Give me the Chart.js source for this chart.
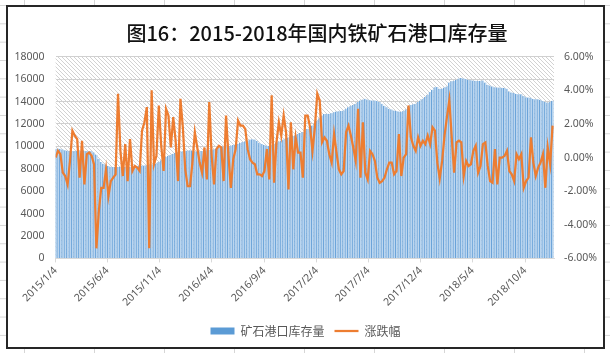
<!DOCTYPE html>
<html>
<head>
<meta charset="utf-8">
<script src="https://cdn.jsdelivr.net/npm/chart.js@4.4.0/dist/chart.umd.min.js"></script>
<style>
html, body { margin: 0; padding: 0; width: 610px; height: 353px; overflow: hidden; background: #fff; }
body {
    background-image: linear-gradient(to right, #d6d6d6 1px, transparent 1px),
                      linear-gradient(to bottom, #d6d6d6 1px, transparent 1px);
    background-size: 70px 18.33px;
    background-position: 24px 5px;
}
#box { position: absolute; left: 6px; top: 5px; width: 599px; height: 344px; box-sizing: border-box; border: 2px solid #262626; background: #fff; }
#wrap { position: absolute; left: 8px; top: 7px; width: 595px; height: 340px; }
#title { position: absolute; left: 0; top: 21px; width: 634px; text-align: center; font: 500 20px "Noto Sans CJK SC"; line-height: 24px; color: #111; }
</style>
</head>
<body>
<div id="box"></div>
<div id="wrap"><canvas id="chart"></canvas></div>
<div id="title">图16：2015-2018年国内铁矿石港口库存量</div>
<script>
// weekly data, first week = startDate
const startDate = '2015/1/4';
const tickLabels = ['2015/1/4', '2015/6/4', '2015/11/4', '2016/4/4', '2016/9/4',
    '2017/2/4', '2017/7/4', '2017/12/4', '2018/5/4', '2018/10/4'];
const seriesNames = ['矿石港口库存量', '涨跌幅'];

// port inventory (left axis)
const inventory = [
    9780, 9800, 9780, 9720, 9650, 9600, 9580, 9560, 9580, 9600,
    9590, 9580, 9600, 9590, 9570, 9560, 9450, 9250, 8900, 8600,
    8450, 8350, 8250, 8180, 8150, 8160, 8150, 8170, 8150, 8180,
    8200, 8170, 8180, 8200, 8220, 8250, 8280, 8300, 8320, 8350,
    8380, 8420, 8480, 8600, 8750, 8900, 9050, 9150, 9250, 9350,
    9420, 9480, 9520, 9560, 9600, 9630, 9650, 9600, 9560, 9550,
    9560, 9580, 9600, 9650, 9700, 9720, 9750, 9800, 9870, 9920,
    9980, 10000, 10030, 10060, 10120, 10160, 10230, 10300, 10380, 10450,
    10530, 10600, 10640, 10600, 10480, 10300, 10200, 10120, 10050, 10030,
    10100, 10220, 10330, 10430, 10520, 10620, 10720, 10800, 10860, 10930,
    11000, 11100, 11180, 11280, 11400, 11550, 11700, 11850, 12000, 12300,
    12500, 12750, 12880, 12900, 12900, 12950, 13050, 13100, 13130, 13150,
    13200, 13350, 13500, 13620, 13700, 13800, 13950, 14100, 14180, 14240,
    14180, 14120, 14100, 14100, 14050, 13950, 13800, 13620, 13480, 13350,
    13280, 13200, 13150, 13100, 13080, 13150, 13300, 13550, 13700, 13750,
    13800, 13950, 14100, 14250, 14400, 14600, 14850, 15050, 15280, 15300,
    15150, 15150, 15250, 15350, 15700, 15800, 15850, 15950, 16050, 16100,
    16050, 16000, 15950, 15900, 15880, 15850, 15830, 15850, 15880, 15700,
    15500, 15440, 15350, 15280, 15250, 15250, 15230, 15200, 15150, 14900,
    14800, 14750, 14680, 14660, 14650, 14500, 14380, 14350, 14330, 14220,
    14200, 14200, 14150, 14050, 13950, 13900, 13950, 14060
];

// weekly change in % (right axis)
const change = [
    0.0, 0.4, 0.2, -0.9, -1.1, -1.6, -0.2, 1.6, 1.3, 1.1,
    -1.2, 1.0, -1.6, 0.2, 0.3, 0.1, -0.4, -5.4, -3.2, -1.8,
    -1.8, -0.7, -2.3, -1.4, -1.2, -1.0, 3.8, 0.4, -1.1, 0.8,
    -1.4, 1.1, -0.8, -0.5, -0.6, -0.8, 1.6, 2.1, 3.0, -5.4,
    4.0, -0.4, 0.1, 3.1, 0.7, -0.8, 2.9, 2.5, 0.6, 2.4,
    1.0, -1.4, 3.5, 1.8, -0.7, -1.7, -1.7, -0.3, 1.5, 0.6,
    -0.3, -0.9, 0.6, -1.3, 3.3, 0.1, -1.6, 0.5, 0.7, 0.6,
    -1.4, 2.5, 0.1, -1.8, -0.1, 0.5, 2.2, 1.9, 1.9, 1.7,
    0.5, -0.1, -0.3, -0.4, -1.0, -1.0, -1.1, -0.8, 0.5, -1.3,
    3.7, -1.5, 0.9, 2.1, 1.3, 2.5, 1.5, -1.9, 2.1, -0.7,
    1.2, 0.3, 0.3, -1.2, 2.5, 2.5, 1.8, 0.4, 1.8, 3.8,
    3.4, 0.9, 1.2, 1.0, 0.2, -0.3, 1.4, 0.3, -0.7, -1.0,
    -0.8, 1.5, 1.9, 1.3, 0.6, -0.2, 2.9, -1.2, 2.1, -0.9,
    -1.3, 0.4, 0.2, -0.2, -1.2, -1.5, -1.4, -1.2, -0.7, -0.3,
    -0.3, -1.0, -0.8, 1.4, -1.1, 0.0, 0.2, 3.1, 1.2, 0.7,
    0.4, 1.2, 0.7, 1.0, 0.8, 1.3, 0.8, 1.8, 1.6, -0.3,
    -1.25, -0.2, 1.3, 2.4, 3.4, 1.2, -0.9, 0.9, 1.0, 0.9,
    -1.1, -0.2, -0.5, -0.4, 0.4, 0.7, -0.9, -0.5, 0.8, 0.9,
    -0.5, -1.4, -1.5, 0.5, -1.6, 0.0, 0.0, 0.1, 0.4, -0.8,
    -1.0, -1.4, 0.2, -0.1, 0.2, -1.8, -1.4, -1.2, 1.2, -0.3,
    -1.1, -0.6, -0.3, 0.2, -1.8, 0.6, -0.4, 1.9
];

const WEEK = 7 * 24 * 3600 * 1000;
const tickPos = tickLabels.map(s => (Date.parse(s) - Date.parse(startDate)) / WEEK);

const gray = '#595959';
const numFont = { family: 'Noto Sans', size: 10.5 };

// diagonal hatch behind the plot area
const hatch = (() => {
    const c = document.createElement('canvas');
    c.width = 4; c.height = 4;
    const g = c.getContext('2d');
    g.fillStyle = '#fff';
    g.fillRect(0, 0, 4, 4);
    g.strokeStyle = '#d2d2d2';
    g.lineWidth = 1;
    g.beginPath();
    g.moveTo(-1, -1); g.lineTo(5, 5);
    g.stroke();
    return g.createPattern(c, 'repeat');
})();

const hatchPlugin = {
    id: 'hatch',
    beforeDraw(chart) {
        const a = chart.chartArea;
        const ctx = chart.ctx;
        ctx.save();
        ctx.fillStyle = hatch;
        ctx.fillRect(a.left, a.top, a.right - a.left, a.bottom - a.top);
        ctx.restore();
    }
};

new Chart(document.getElementById('chart'), {
    type: 'bar',
    data: {
        datasets: [{
            type: 'bar',
            label: seriesNames[0],
            data: inventory.map((v, i) => ({ x: i, y: v })),
            backgroundColor: '#bcd6ef',
            borderColor: '#6aa3d9',
            borderWidth: { left: 1, right: 0, top: 0, bottom: 0 },
            borderSkipped: false,
            barPercentage: 1,
            categoryPercentage: 1,
            yAxisID: 'y',
            order: 2
        }, {
            type: 'line',
            label: seriesNames[1],
            data: change.map((v, i) => ({ x: i, y: v })),
            borderColor: '#ed7d31',
            borderWidth: 2.25,
            pointRadius: 0,
            tension: 0,
            yAxisID: 'y1',
            order: 1
        }]
    },
    options: {
        responsive: true,
        maintainAspectRatio: false,
        animation: false,
        layout: { padding: { top: 49.7, left: 0, right: 0, bottom: 0 } },
        plugins: {
            tooltip: { enabled: false },
            legend: {
                position: 'bottom',
                labels: {
                    usePointStyle: true,
                    pointStyleWidth: 24,
                    boxHeight: 7,
                    padding: 10,
                    color: gray,
                    font: { family: 'Noto Sans CJK SC', size: 12 },
                    generateLabels: () => [
                        { text: seriesNames[0], fillStyle: '#5b9bd5', strokeStyle: '#5b9bd5', lineWidth: 0, pointStyle: 'rect', fontColor: gray, datasetIndex: 0 },
                        { text: seriesNames[1], fillStyle: '#ed7d31', strokeStyle: '#ed7d31', lineWidth: 2.25, pointStyle: 'line', fontColor: gray, datasetIndex: 1 }
                    ]
                }
            }
        },
        scales: {
            x: {
                type: 'linear',
                min: 0,
                max: 207.6,
                offset: false,
                grid: { display: true, drawOnChartArea: false, drawTicks: true, tickLength: 4, color: '#d9d9d9', offset: false },
                border: { display: true, color: '#d9d9d9' },
                ticks: {
                    autoSkip: false,
                    minRotation: 45,
                    maxRotation: 45,
                    padding: 2,
                    color: gray,
                    font: numFont,
                    callback: (v, i) => tickLabels[i]
                },
                afterBuildTicks: s => { s.ticks = tickPos.map(v => ({ value: v })); },
                afterFit: s => { s.height = 56.6; }
            },
            y: {
                position: 'left',
                min: 0,
                max: 18000,
                ticks: { stepSize: 2000, padding: 11, color: gray, font: numFont, callback: v => String(v) },
                grid: { color: '#d0d0d0', drawTicks: false },
                border: { display: false },
                afterFit: s => { s.width = 47.6; }
            },
            y1: {
                position: 'right',
                min: -6,
                max: 6,
                ticks: { stepSize: 2, padding: 10, color: gray, font: numFont, callback: v => v.toFixed(2) + '%' },
                grid: { display: false, drawTicks: false },
                border: { display: false },
                afterFit: s => { s.width = 49; }
            }
        }
    },
    plugins: [hatchPlugin]
});
</script>
</body>
</html>
